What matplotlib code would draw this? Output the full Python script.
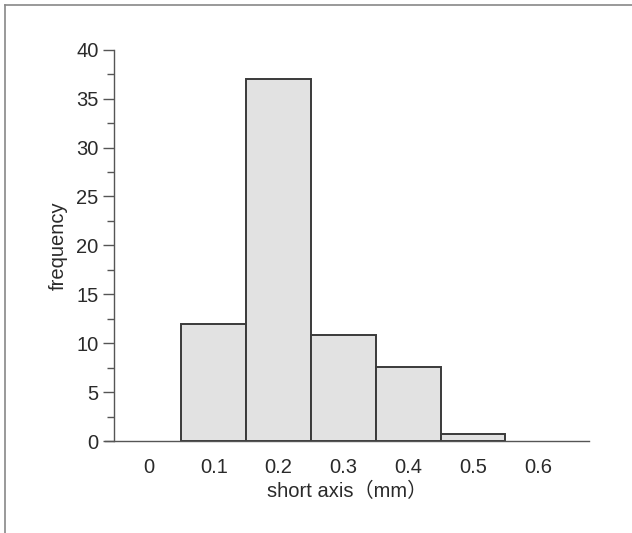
import matplotlib.pyplot as plt
from matplotlib.lines import Line2D
from matplotlib.ticker import MultipleLocator

# histogram of short axis (mm)
bin_centers = [0.1, 0.2, 0.3, 0.4, 0.5]
frequency = [12, 37, 10.8, 7.6, 0.7]
bin_width = 0.1
x_ticks = [0, 0.1, 0.2, 0.3, 0.4, 0.5, 0.6]
x_tick_labels = ["0", "0.1", "0.2", "0.3", "0.4", "0.5", "0.6"]

plt.rcParams['font.family'] = ['Liberation Sans', 'Noto Sans CJK JP', 'DejaVu Sans']
text_color = "#2a2a2a"
fs = 14.5

fig = plt.figure(figsize=(6.32, 5.33), dpi=100)
ax = fig.add_axes([0.166, 0.1726, 0.766, 0.734])

ax.bar(bin_centers, frequency, width=bin_width, color="#e2e2e2",
       edgecolor="#3a3a3a", linewidth=1.4, zorder=2)

ax.set_xlim(-0.068, 0.679)
ax.set_ylim(0, 40)
ax.spines['left'].set_position(('data', -0.054))
ax.spines['left'].set_bounds(0, 40)
for s in ['top', 'right']:
    ax.spines[s].set_visible(False)
for s in ['left', 'bottom']:
    ax.spines[s].set_color("#555555")
    ax.spines[s].set_linewidth(1.0)

ax.set_xticks(x_ticks)
ax.set_xticklabels(x_tick_labels)
ax.tick_params(axis='x', length=0, pad=12, labelsize=fs, labelcolor=text_color)

ax.yaxis.set_major_locator(MultipleLocator(5))
ax.yaxis.set_minor_locator(MultipleLocator(2.5))
ax.tick_params(axis='y', which='major', length=8, width=1.0, color="#555555",
               pad=3, labelsize=fs, labelcolor=text_color)
ax.tick_params(axis='y', which='minor', length=5, width=1.0, color="#555555")

ax.set_xlabel("short axis（mm）", fontsize=fs, color=text_color, labelpad=4)
ax.set_ylabel("frequency", fontsize=fs, color=text_color, labelpad=6)

# page frame
fig.add_artist(Line2D([5 / 632, 5 / 632], [0, 1 - 5 / 533], color="#888888", lw=1.2))
fig.add_artist(Line2D([5 / 632, 1], [1 - 5 / 533, 1 - 5 / 533], color="#888888", lw=1.2))

fig.savefig("out.png", dpi=100)
